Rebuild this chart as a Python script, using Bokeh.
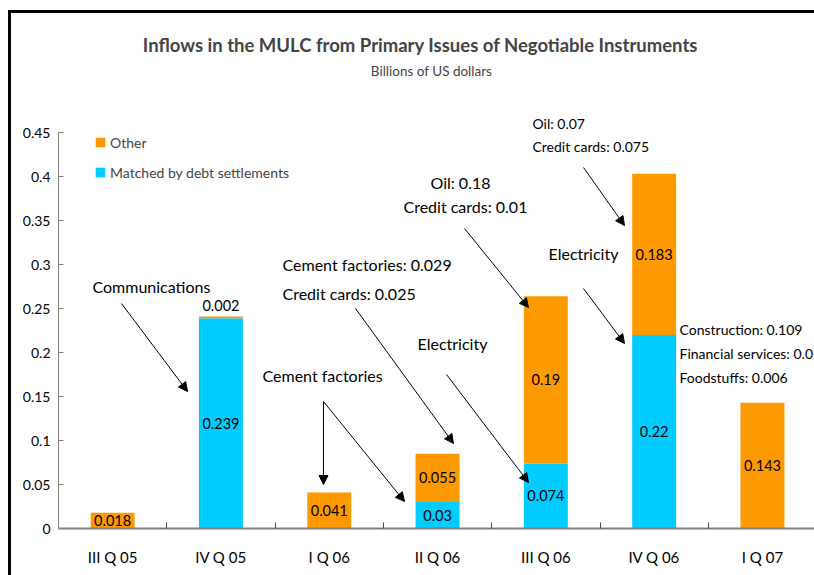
from bokeh.plotting import figure
from bokeh.models import (Range1d, FixedTicker, Label, Arrow, NormalHead,
                          ColumnDataSource, Legend, LegendItem, Spacer)
from bokeh.layouts import row, column
from bokeh.core.properties import value
from bokeh.embed import file_html
from bokeh.resources import INLINE

# ---------------- data ----------------
categories = ["III Q 05", "IV Q 05", "I Q 06", "II Q 06", "III Q 06", "IV Q 06", "I Q 07"]
matched = [0, 0.239, 0, 0.03, 0.074, 0.22, 0]          # Matched by debt settlements
other = [0.018, 0.002, 0.041, 0.055, 0.19, 0.183, 0.143]  # Other
y_ticks = [0, 0.05, 0.1, 0.15, 0.2, 0.25, 0.3, 0.35, 0.4, 0.45]
y_tick_labels = ["0", "0.05", "0.1", "0.15", "0.2", "0.25", "0.3", "0.35", "0.4", "0.45"]

title = "Inflows in the MULC from Primary Issues of Negotiable Instruments"
subtitle = "Billions of US dollars"

# annotation texts: (text, x_px, y_px, font size, align)
notes = [
    ("Communications", 92, 286, "16px", "left"),
    ("Cement factories: 0.029", 282, 264, "16px", "left"),
    ("Credit cards: 0.025", 282, 293, "16px", "left"),
    ("Cement factories", 262, 375, "16px", "left"),
    ("Electricity", 417, 343, "16px", "left"),
    ("Oil: 0.18", 430, 182, "16px", "left"),
    ("Credit cards: 0.01", 403, 206, "16px", "left"),
    ("Electricity", 548, 253, "16px", "left"),
    ("Oil: 0.07", 532, 123, "14px", "left"),
    ("Credit cards: 0.075", 532, 146, "14px", "left"),
    ("Construction: 0.109", 679, 329, "14px", "left"),
    ("Financial services: 0.02", 679, 353, "14px", "left"),
    ("Foodstuffs: 0.006", 679, 377, "14px", "left"),
]
# arrows: (x0, y0, x1, y1) in pixel positions
arrows_px = [
    (121, 303, 187, 391),
    (323, 401, 323, 484),
    (323, 401, 404, 501),
    (355, 308, 453, 443),
    (446, 374, 528, 482),
    (464, 228, 528, 307),
    (583, 167, 624, 225),
    (583, 288, 624, 343),
]

ORANGE = "#FF9900"
CYAN = "#00CCFF"
FONT = "Lato"

# page offsets of the chart box (left/top border) and the figure inside it
BOX_X, BOX_Y, BORDER = 8, 10, 3
FIG_X, FIG_Y = BOX_X + BORDER, BOX_Y + BORDER
PAGE_W, PAGE_H = 814, 575

# pixel -> data helpers (for annotation placement only)
X0_PX, CAT_PX, Y0_PX, UNIT_PX = 58, 108.3, 528, 880


def dx(px):
    return (px - X0_PX) / CAT_PX - 0.5


def dy(py):
    return (Y0_PX - py) / UNIT_PX


p = figure(width=PAGE_W - FIG_X, height=PAGE_H - FIG_Y, output_backend="svg",
           toolbar_location=None,
           x_range=Range1d(-0.5, dx(PAGE_W)), y_range=Range1d(0, dy(FIG_Y)),
           min_border_left=X0_PX - FIG_X, min_border_right=0, min_border_top=0,
           min_border_bottom=PAGE_H - Y0_PX)
p.outline_line_color = None
p.xgrid.visible = False
p.ygrid.visible = False

xs = list(range(len(categories)))
tops = [m + o for m, o in zip(matched, other)]
src = ColumnDataSource(dict(x=xs, matched=matched, ob=matched, ot=tops))
BW = 0.406
r_m = p.vbar(x="x", width=BW, bottom=0, top="matched", fill_color=CYAN,
             line_color=None, source=src)
r_o = p.vbar(x="x", width=BW, bottom="ob", top="ot", fill_color=ORANGE,
             line_color=None, source=src)

# value labels
lx, ly, lt, lb = [], [], [], []
for i in xs:
    if matched[i] > 0:
        lx.append(i); ly.append(matched[i] / 2); lt.append(str(matched[i])); lb.append("middle")
    if other[i] > 0:
        if other[i] < 0.01:
            lx.append(i); ly.append(tops[i] + 0.006); lt.append(str(other[i])); lb.append("bottom")
        else:
            lx.append(i); ly.append(matched[i] + other[i] / 2); lt.append(str(other[i])); lb.append("middle")
lsrc = ColumnDataSource(dict(x=lx, y=ly, t=lt, b=lb))
p.text(x="x", y="y", text="t", source=lsrc, text_align="center", text_baseline="b",
       text_font=value(FONT), text_font_size="14.5px", text_color="black")

# axes
p.xaxis.ticker = FixedTicker(ticks=xs, minor_ticks=[i + 0.5 for i in xs])
p.xaxis.major_label_overrides = {i: c for i, c in enumerate(categories)}
p.xaxis.major_tick_in = 0
p.xaxis.major_tick_out = 0
p.xaxis.minor_tick_in = 6
p.xaxis.minor_tick_out = 0
p.xaxis.minor_tick_line_color = "#444444"
p.xaxis.axis_line_color = "#808080"
p.xaxis.axis_line_width = 2
p.xaxis.major_label_standoff = 19
p.xaxis.major_label_text_font = FONT
p.xaxis.major_label_text_font_size = "15px"
p.xaxis.major_label_text_color = "black"

p.yaxis.ticker = FixedTicker(ticks=y_ticks, minor_ticks=[])
p.yaxis.major_label_overrides = dict(zip(y_ticks, y_tick_labels))
p.yaxis.bounds = (0, 0.45)
p.yaxis.major_tick_in = 5
p.yaxis.major_tick_out = 0
p.yaxis.major_tick_line_color = "#808080"
p.yaxis.axis_line_color = "#808080"
p.yaxis.minor_tick_line_color = None
p.yaxis.major_label_standoff = 8
p.yaxis.major_label_text_font = FONT
p.yaxis.major_label_text_font_size = "14px"
p.yaxis.major_label_text_color = "black"

# title / subtitle
p.add_layout(Label(x=dx(420), y=dy(44), text=title, text_align="center",
                   text_baseline="middle", text_font=FONT, text_font_style="bold",
                   text_font_size="18.5px"))
p.add_layout(Label(x=dx(431), y=dy(70), text=subtitle, text_align="center",
                   text_baseline="middle", text_font=FONT, text_font_size="13.5px"))

for t, x, y, fs, al in notes:
    p.add_layout(Label(x=dx(x), y=dy(y), text=t, text_align=al, text_baseline="middle",
                       text_font=FONT, text_font_size=fs, text_color="black"))

for x0, y0, x1, y1 in arrows_px:
    p.add_layout(Arrow(end=NormalHead(size=9, fill_color="black", line_color="black"),
                       x_start=dx(x0), y_start=dy(y0), x_end=dx(x1), y_end=dy(y1),
                       line_color="black", line_width=1))

legend = Legend(items=[LegendItem(label="Other", renderers=[r_o]),
                       LegendItem(label="Matched by debt settlements", renderers=[r_m])],
                location=(36, 346), border_line_color=None, background_fill_alpha=0,
                padding=0, margin=0, spacing=10, glyph_width=12, glyph_height=12,
                label_standoff=4, label_height=20, label_text_font=FONT,
                label_text_font_size="14px")
p.add_layout(legend)

# chart box border (left and top edges), built from layout spacers
top_bar = Spacer(width=PAGE_W - BOX_X, height=BORDER, background="black")
left_bar = Spacer(width=BORDER, height=PAGE_H - FIG_Y, background="black")
layout = column(Spacer(width=PAGE_W, height=BOX_Y),
                row(Spacer(width=BOX_X, height=PAGE_H - BOX_Y),
                    column(top_bar, row(left_bar, p, spacing=0), spacing=0),
                    spacing=0),
                spacing=0)

open("out.html", "w").write(file_html(layout, INLINE))
